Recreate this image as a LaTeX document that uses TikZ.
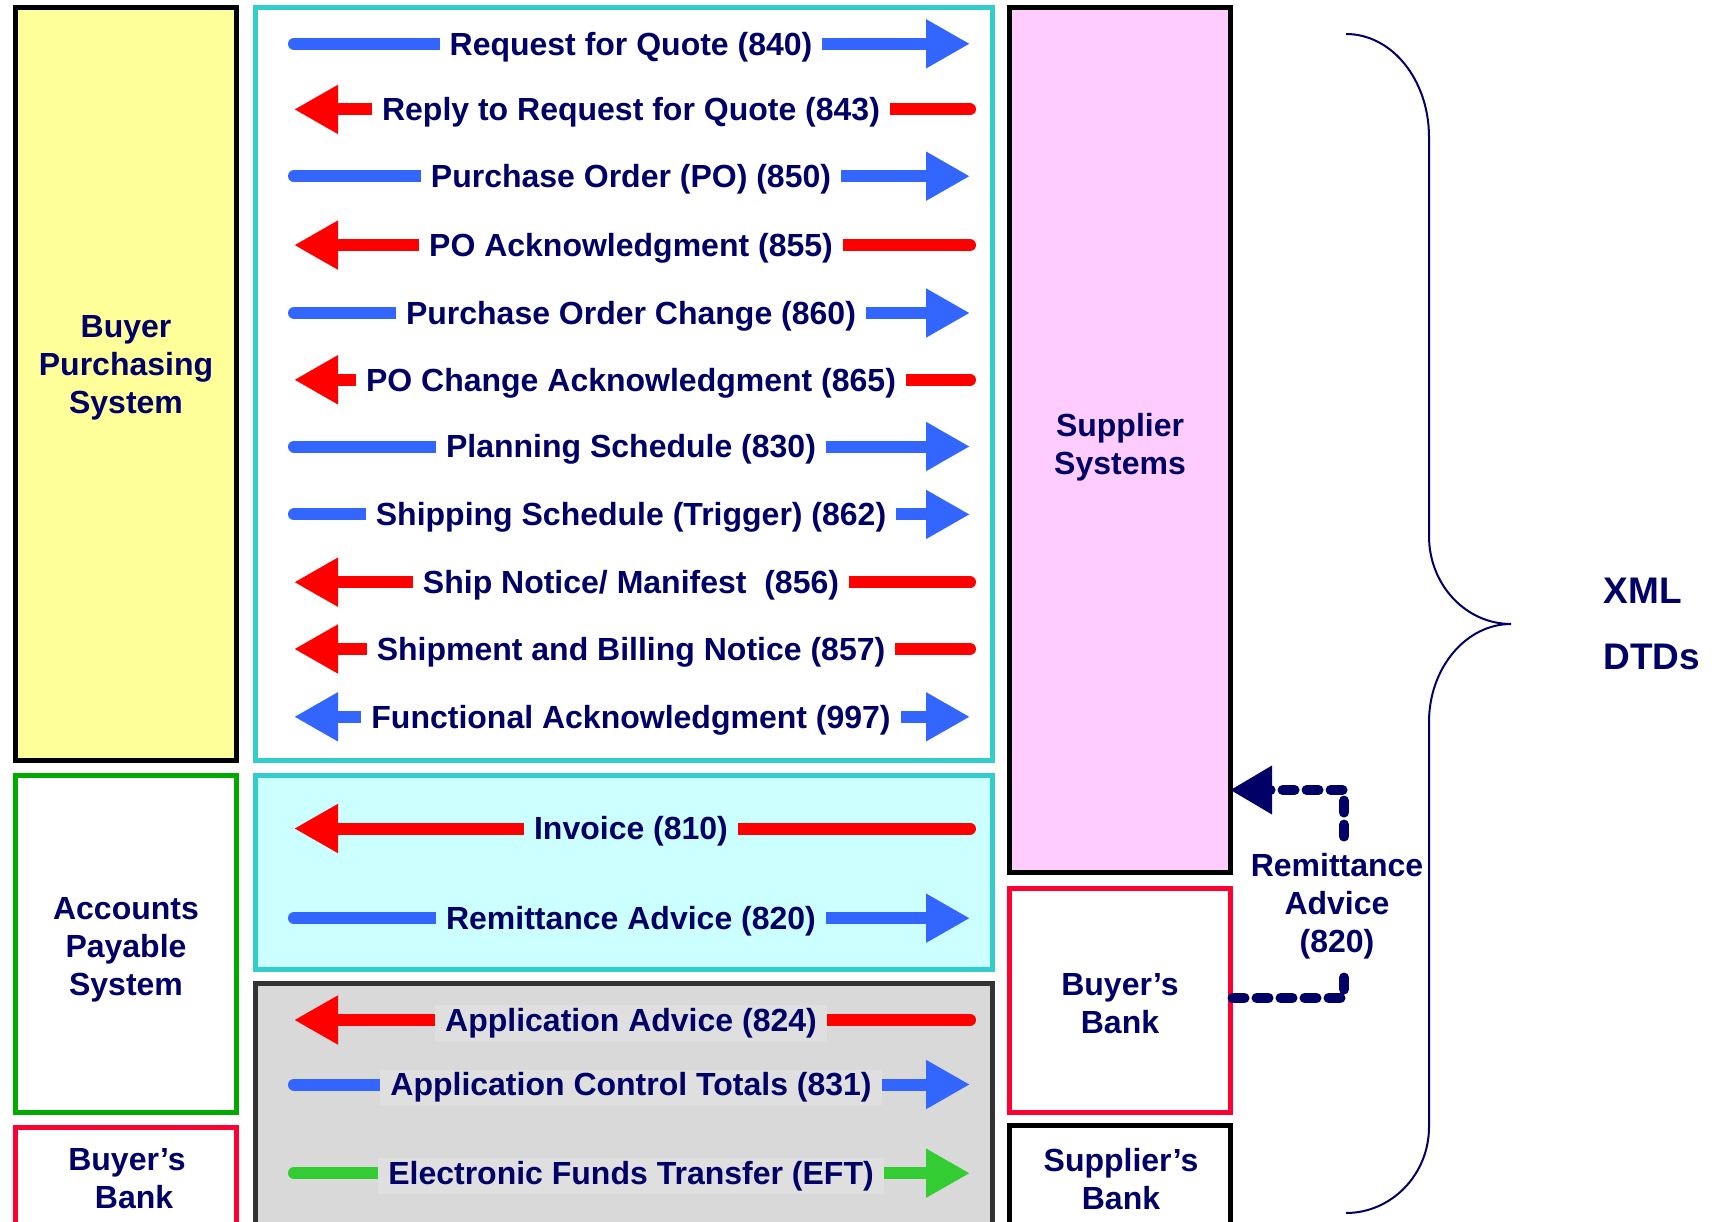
\documentclass[tikz,border=0pt]{standalone}
\usepackage{fontspec}
\setmainfont{Liberation Sans}
\usepackage{tikz}
\usetikzlibrary{arrows.meta}

\definecolor{navy}{HTML}{000066}
\definecolor{msgblue}{HTML}{3366FF}
\definecolor{msgred}{HTML}{FF0000}
\definecolor{msggreen}{HTML}{33CC33}
\definecolor{turq}{HTML}{33CCCC}
\definecolor{paleyellow}{HTML}{FFFF99}
\definecolor{palepink}{HTML}{FFCCFF}
\definecolor{palecyan}{HTML}{CCFFFF}
\definecolor{panelgray}{HTML}{D9D9D9}
\definecolor{labelgray}{HTML}{DFDFDF}
\definecolor{bankred}{HTML}{FF0033}
\definecolor{apgreen}{HTML}{00AA00}

\tikzset{
	sysbox/.style={draw, line width=5pt, inner sep=0pt},
	boxlabel/.style={align=center, text=navy, font=\bfseries\fontsize{32}{38}\selectfont},
	msg/.style={text=navy, font=\bfseries\fontsize{32}{38}\selectfont, inner xsep=10pt, inner ysep=3pt, yshift=-3pt},
	tosup/.style={msgblue, line width=12pt, line cap=round, -{Triangle[length=44pt,width=46pt]}},
	tobuy/.style={msgred, line width=12pt, line cap=round, {Triangle[length=44pt,width=46pt]}-},
	both/.style={msgblue, line width=12pt, {Triangle[length=44pt,width=46pt]}-{Triangle[length=44pt,width=46pt]}},
	eft/.style={msggreen, line width=12pt, line cap=round, -{Triangle[length=44pt,width=46pt]}},
	remit/.style={navy, line width=10pt, line cap=round, dash pattern=on 12pt off 12pt},
}

\begin{document}
\begin{tikzpicture}[x=1pt, y=-1pt]
		%%%%% START %%%%%
		\path[use as bounding box, clip] (0,0) rectangle (1716,1222);
		
		% buyer side
		\node[sysbox, fill=paleyellow, minimum width=221pt, minimum height=752pt] (buyer) at (125.5,384) {};
		\node[boxlabel] (buyerlbl) at (126,368) {Buyer\\Purchasing\\System};
		\node[sysbox, draw=apgreen, minimum width=221pt, minimum height=337pt] (ap) at (125.5,943.5) {};
		\node[boxlabel] (aplbl) at (126,950) {Accounts\\Payable\\System};
		\node[sysbox, draw=bankred, minimum width=221pt, minimum height=113pt] (lbank) at (125.5,1183.5) {};
		\node[boxlabel] (lbanklbl) at (127,1179) {Buyer’s\\\ \,Bank};
		
		% message panels
		\draw[turq, line width=5pt, fill=white] (255,8) rectangle (992,760);
		\draw[turq, line width=5pt, fill=palecyan] (255,775) rectangle (992,969);
		\draw[black!80, line width=5pt, fill=panelgray] (255,983) rectangle (992,1240);
		
		\foreach \i/\y/\kind/\txt in {1/43.8/tosup/{Request for Quote (840)},
			2/109.4/tobuy/{Reply to Request for Quote (843)},
			3/176.2/tosup/{Purchase Order (PO) (850)},
			4/245.1/tobuy/{PO Acknowledgment (855)},
			5/313/tosup/{Purchase Order Change (860)},
			6/379.8/tobuy/{PO Change Acknowledgment (865)},
			7/446.5/tosup/{Planning Schedule (830)},
			8/514.4/tosup/{Shipping Schedule (Trigger) (862)},
			9/582.2/tobuy/{Ship Notice/ Manifest\ \ (856)},
			10/649/tobuy/{Shipment and Billing Notice (857)},
			11/716.8/both/{Functional Acknowledgment (997)}}{
			\coordinate (l\i) at (294,\y);
			\coordinate (r\i) at (970,\y);
			\draw[\kind] (l\i) -- (r\i);
			\node[msg, fill=white] (m\i) at (631,\y) {\txt};
		}
		
		\foreach \i/\y/\kind/\txt in {12/828.5/tobuy/{Invoice (810)},
			13/918.2/tosup/{Remittance Advice (820)}}{
			\coordinate (l\i) at (294,\y);
			\coordinate (r\i) at (970,\y);
			\draw[\kind] (l\i) -- (r\i);
			\node[msg, fill=palecyan] (m\i) at (631,\y) {\txt};
		}
		
		\foreach \i/\y/\kind/\txt in {14/1020/tobuy/{Application Advice (824)},
			15/1084.5/tosup/{Application Control Totals (831)},
			16/1173.2/eft/{Electronic Funds Transfer (EFT)}}{
			\coordinate (l\i) at (294,\y);
			\coordinate (r\i) at (970,\y);
			\draw[\kind] (l\i) -- (r\i);
			\node[msg, fill=labelgray] (m\i) at (631,\y) {\txt};
		}
		
		% supplier side
		\node[sysbox, fill=palepink, minimum width=221pt, minimum height=864pt] (supp) at (1119.5,440) {};
		\node[boxlabel] (supplbl) at (1120,447) {Supplier\\Systems};
		\node[sysbox, draw=bankred, minimum width=221pt, minimum height=224pt] (rbank) at (1119.5,1000) {};
		\node[boxlabel] (rbanklbl) at (1120,1004) {Buyer’s\\Bank};
		\node[sysbox, minimum width=221pt, minimum height=115pt] (sbank) at (1119.5,1182.5) {};
		\node[boxlabel] (sbanklbl) at (1121,1179) {Supplier’s\\Bank};
		
		% remittance advice from the bank
		\node[boxlabel] (rem) at (1337,906) {Remittance\\Advice\\(820)};
		\coordinate (suppin) at (1230,790);
		\draw[remit] (rbank.east |- 0,998) -| ([xshift=7pt,yshift=-15pt]rem.south);
		\draw[remit, -{Triangle[length=42pt,width=46pt]}] ([xshift=7pt,yshift=13pt]rem.north) |- (suppin);
		
		% brace
		\draw[navy, line width=2pt] (1346,34) .. controls (1392,34) and (1429,80) .. (1429,137)
			-- (1429,536) .. controls (1429,585) and (1466,624) .. (1511,624)
			.. controls (1466,624) and (1429,668) .. (1429,722)
			-- (1429,1127) .. controls (1429,1174) and (1392,1213) .. (1346,1213);
		\node[boxlabel, anchor=west, font=\bfseries\fontsize{37}{40}\selectfont] (xml) at (1600,591) {XML};
		\node[boxlabel, anchor=west, font=\bfseries\fontsize{37}{40}\selectfont] (dtds) at (1600,657) {DTDs};
		%%%%% END %%%%%
\end{tikzpicture}
\end{document}
